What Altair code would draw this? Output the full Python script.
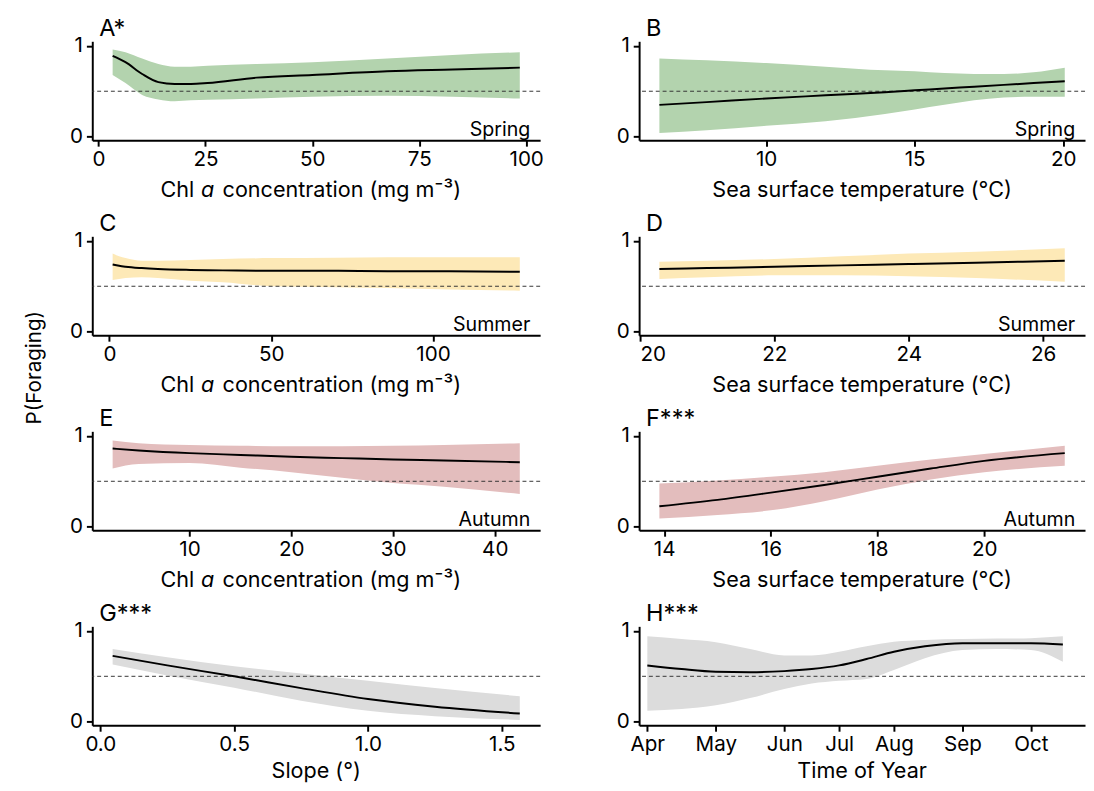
import altair as alt
import pandas as pd

FONT = "Inter"

# ---------------- data ----------------
# A: Spring, Chl a
a_x = [3.3, 6.3, 10.2, 14, 17.8, 21.6, 25.5, 37, 50, 67.5, 82.8, 98.5]
a_fit = [0.89, 0.82, 0.69, 0.60, 0.58, 0.58, 0.59, 0.65, 0.68, 0.72, 0.74, 0.76]
a_hi = [0.96, 0.93, 0.86, 0.80, 0.77, 0.77, 0.78, 0.80, 0.82, 0.86, 0.90, 0.93]
a_lo = [0.68, 0.59, 0.46, 0.41, 0.39, 0.40, 0.405, 0.42, 0.44, 0.45, 0.44, 0.42]
a_ticks = [0, 25, 50, 75, 100]

# B: Spring, SST
b_x = [6.41, 8, 10, 12, 14, 15, 16, 17, 18, 19, 20.05]
b_fit = [0.35, 0.38, 0.42, 0.455, 0.49, 0.51, 0.53, 0.55, 0.57, 0.59, 0.61]
b_hi = [0.86, 0.84, 0.81, 0.77, 0.73, 0.72, 0.70, 0.69, 0.69, 0.71, 0.76]
b_lo = [0.04, 0.07, 0.12, 0.17, 0.25, 0.30, 0.35, 0.40, 0.43, 0.44, 0.44]
b_ticks = [10, 15, 20]

# C: Summer, Chl a
c_x = [1.0, 3, 5, 10, 15, 25, 35, 50, 70, 86, 105, 126.8]
c_fit = [0.74, 0.725, 0.715, 0.70, 0.69, 0.68, 0.675, 0.67, 0.67, 0.665, 0.665, 0.66]
c_hi = [0.86, 0.83, 0.81, 0.78, 0.78, 0.79, 0.80, 0.81, 0.815, 0.82, 0.82, 0.82]
c_lo = [0.57, 0.58, 0.59, 0.60, 0.59, 0.56, 0.545, 0.50, 0.49, 0.48, 0.465, 0.45]
c_ticks = [0, 50, 100]

# D: Summer, SST
d_x = [20.29, 21, 22, 23, 24, 25, 26.32]
d_fit = [0.69, 0.70, 0.715, 0.73, 0.745, 0.76, 0.78]
d_hi = [0.77, 0.78, 0.80, 0.83, 0.86, 0.88, 0.92]
d_lo = [0.58, 0.60, 0.62, 0.62, 0.61, 0.59, 0.55]
d_ticks = [20, 22, 24, 26]

# E: Autumn, Chl a
e_x = [2.44, 5, 10, 15, 20, 25, 30, 35, 42.46]
e_fit = [0.86, 0.84, 0.81, 0.79, 0.77, 0.755, 0.74, 0.73, 0.71]
e_hi = [0.95, 0.92, 0.90, 0.89, 0.885, 0.885, 0.89, 0.90, 0.92]
e_lo = [0.64, 0.69, 0.70, 0.65, 0.60, 0.54, 0.48, 0.44, 0.36]
e_ticks = [10, 20, 30, 40]

# F: Autumn, SST
f_x = [13.91, 15, 16, 17, 18, 19, 20, 21.51]
f_fit = [0.225, 0.295, 0.375, 0.46, 0.55, 0.64, 0.725, 0.81]
f_hi = [0.475, 0.51, 0.55, 0.60, 0.67, 0.74, 0.80, 0.89]
f_lo = [0.09, 0.13, 0.18, 0.28, 0.41, 0.52, 0.60, 0.67]
f_ticks = [14, 16, 18, 20]

# G: Slope
g_x = [0.046, 0.25, 0.5, 0.75, 1.0, 1.25, 1.567]
g_fit = [0.725, 0.62, 0.50, 0.37, 0.25, 0.165, 0.09]
g_hi = [0.80, 0.71, 0.61, 0.53, 0.45, 0.37, 0.28]
g_lo = [0.63, 0.51, 0.375, 0.23, 0.12, 0.06, 0.02]
g_ticks = [0.0, 0.5, 1.0, 1.5]

# H: Time of year (days after 1 April)
h_x = [0, 15, 30, 45, 60, 72, 84, 96, 108, 121.6, 138, 153, 168, 182]
h_fit = [0.62, 0.58, 0.55, 0.545, 0.557, 0.58, 0.62, 0.69, 0.77, 0.83, 0.865, 0.865, 0.865, 0.85]
h_hi = [0.94, 0.91, 0.875, 0.80, 0.73, 0.73, 0.77, 0.83, 0.88, 0.90, 0.91, 0.915, 0.92, 0.94]
h_lo = [0.12, 0.14, 0.18, 0.26, 0.36, 0.42, 0.45, 0.47, 0.57, 0.70, 0.79, 0.80, 0.79, 0.66]
month_ticks = [0, 30, 60, 84, 108, 138, 168]
month_labels = ["Apr", "May", "Jun", "Jul", "Aug", "Sep", "Oct"]

threshold = [0.5]
y_ticks = [0, 1]

GREEN, YELLOW, RED, GREY = "#b3d3ae", "#fde9b7", "#e3bdbd", "#dcdcdc"

LW, RW, H = 457, 455, 101
YDOM = [-0.04, 1.05]
TITLE_SIZE = 22


def expand(xs, f=0.05):
    lo, hi = min(xs), max(xs)
    r = hi - lo
    return [lo - f * r, hi + f * r]


def panel(xs, fit, hi, lo, color, label, season, xtitle, w, tick_values, xfmt="d",
          xdom=None, label_expr=None, chl=False, ylab=False, title_off=58):
    df = pd.DataFrame({"x": xs, "fit": fit, "hi": hi, "lo": lo})
    if xdom is None:
        xdom = expand(xs)
    ax_kw = dict(title=None, values=tick_values, format=xfmt)
    if label_expr is not None:
        ax_kw["labelExpr"] = label_expr
    xenc = alt.X("x:Q", scale=alt.Scale(domain=xdom, nice=False, zero=False),
                 axis=alt.Axis(**ax_kw))
    yscale = alt.Scale(domain=YDOM, nice=False, zero=False)
    base = alt.Chart(df)
    area = base.mark_area(color=color, opacity=1, interpolate="monotone").encode(
        x=xenc,
        y=alt.Y("lo:Q", scale=yscale, axis=alt.Axis(values=y_ticks, title=None, format="d")),
        y2="hi:Q",
    )
    line = base.mark_line(color="black", strokeWidth=2, interpolate="monotone").encode(
        x=xenc, y=alt.Y("fit:Q", scale=yscale)
    )
    rule = alt.Chart(pd.DataFrame({"ref": threshold})).mark_rule(
        color="#333333", strokeDash=[4, 3], strokeWidth=1
    ).encode(y=alt.Y("ref:Q", scale=yscale))
    lab = alt.Chart(pd.DataFrame({"t": [label]})).mark_text(
        align="left", baseline="alphabetic", fontSize=24, font=FONT, color="black"
    ).encode(text="t:N", x=alt.value(7), y=alt.value(-5))
    sea = alt.Chart(pd.DataFrame({"t": [season]})).mark_text(
        align="right", baseline="alphabetic", fontSize=20, font=FONT, color="black"
    ).encode(text="t:N", x=alt.value(w - 10), y=alt.value(H - 4))
    layers = [area, rule, line, lab, sea]
    if chl:
        parts = [("Chl", "normal", "right", 104), ("a", "italic", "left", 111),
                 ("concentration (mg m\u207b\u00b3)", "normal", "left", 133)]
        for txt, style, al, px in parts:
            layers.append(
                alt.Chart(pd.DataFrame({"t": [txt]})).mark_text(
                    align=al, baseline="alphabetic", fontSize=TITLE_SIZE, font=FONT,
                    fontStyle=style, color="black"
                ).encode(text="t:N", x=alt.value(px), y=alt.value(H + title_off))
            )
    else:
        layers.append(
            alt.Chart(pd.DataFrame({"t": [xtitle]})).mark_text(
                align="center", baseline="alphabetic", fontSize=TITLE_SIZE, font=FONT, color="black"
            ).encode(text="t:N", x=alt.value(w / 2), y=alt.value(H + title_off))
        )
    if ylab:
        layers.append(
            alt.Chart(pd.DataFrame({"t": ["P(Foraging)"]})).mark_text(
                angle=270, align="center", baseline="middle", fontSize=21, font=FONT, color="black"
            ).encode(text="t:N", x=alt.value(-58), y=alt.value(134))
        )
    return alt.layer(*layers).properties(width=w, height=H)


sst = "Sea surface temperature (\u00b0C)"
month_expr = "[" + ",".join("'%s'" % m for m in month_labels) + "][indexof([" + \
    ",".join(str(t) for t in month_ticks) + "], datum.value)]"

pA = panel(a_x, a_fit, a_hi, a_lo, GREEN, "A*", "Spring", None, LW, a_ticks, chl=True)
pB = panel(b_x, b_fit, b_hi, b_lo, GREEN, "B", "Spring", sst, RW, b_ticks)
pC = panel(c_x, c_fit, c_hi, c_lo, YELLOW, "C", "Summer", None, LW, c_ticks, chl=True, ylab=True)
pD = panel(d_x, d_fit, d_hi, d_lo, YELLOW, "D", "Summer", sst, RW, d_ticks)
pE = panel(e_x, e_fit, e_hi, e_lo, RED, "E", "Autumn", None, LW, e_ticks, chl=True)
pF = panel(f_x, f_fit, f_hi, f_lo, RED, "F***", "Autumn", sst, RW, f_ticks)
pG = panel(g_x, g_fit, g_hi, g_lo, GREY, "G***", "", "Slope (\u00b0)", LW, g_ticks,
           xfmt=".1f", title_off=54)
pH = panel(h_x, h_fit, h_hi, h_lo, GREY, "H***", "", "Time of Year", RW, month_ticks,
           xdom=[-3.6, 191.7], label_expr=month_expr, title_off=54)

chart = alt.concat(pA, pB, pC, pD, pE, pF, pG, pH, columns=2,
                   spacing=alt.RowColnumber(row=98, column=101))
chart = chart.properties(
    bounds="flush", padding={"left": 17, "top": 2, "right": 0, "bottom": 0}
).configure_view(stroke=None).configure_axis(
    grid=False, domainColor="black", domainWidth=2, tickColor="black", tickWidth=2,
    tickSize=6, labelFontSize=21, labelColor="black", labelFont=FONT, labelPadding=3,
).configure_axisY(labelPadding=4)

chart.save("out.html", embed_options={"renderer": "svg", "actions": False})
